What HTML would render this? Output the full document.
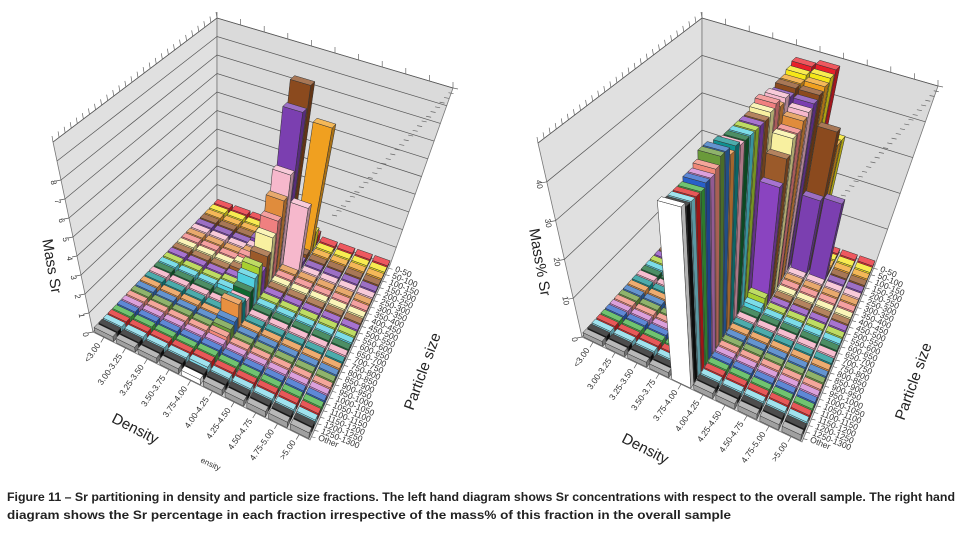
<!DOCTYPE html>
<html><head><meta charset="utf-8"><style>
html,body{margin:0;padding:0;background:#fff;}
svg{display:block;font-family:"Liberation Sans",sans-serif;}
</style></head><body>
<svg id="fig" width="962" height="534" viewBox="0 0 962 534" xmlns="http://www.w3.org/2000/svg">
<rect width="962" height="534" fill="#fff"/>
<g id="left-chart"></g>
<g id="right-chart"></g>
<text x="7" y="501" font-size="11.5" font-weight="bold" fill="#222" textLength="948" lengthAdjust="spacingAndGlyphs">Figure 11 – Sr partitioning in density and particle size fractions. The left hand diagram shows Sr concentrations with respect to the overall sample. The right hand</text>
<text x="7" y="519" font-size="11.5" font-weight="bold" fill="#222" textLength="724" lengthAdjust="spacingAndGlyphs">diagram shows the Sr percentage in each fraction irrespective of the mass% of this fraction in the overall sample</text>
</svg>
<script>
const densityLabels = ["<3.00","3.00-3.25","3.25-3.50","3.50-3.75","3.75-4.00","4.00-4.25","4.25-4.50","4.50-4.75","4.75-5.00",">5.00"];
const sizeLabels = ["0-50","50-100","100-150","150-200","200-250","250-300","300-350","350-400","400-450","450-500","500-550","550-600","600-650","650-700","700-750","750-800","800-850","850-900","900-950","950-1000","1000-1050","1050-1100","1100-1150","1150-1200","1200-1250","1250-1300","Other"];
const sizeColors = ["#e8202a","#f5e617","#f0a020","#8b4a1e","#7b3fb0","#f6b8cc","#e08c3c","#f08080","#f8f0a0","#9b5a2a","#8a44c0","#a8d030","#50d0e0","#106830","#f4a8c0","#109090","#e89040","#3070c0","#6a9a3a","#f08878","#d080d0","#2860c8","#40b040","#e02020","#80d8e8","#111111","#a0a0a0"];
const leftTicks = [0,1,2,3,4,5,6,7,8];
const rightTicks = [0,10,20,30,40];
const LB = 0.25;
const leftMassSr = [
 [LB,LB,LB,LB,LB,LB,LB,LB,LB,LB,LB,LB,LB,LB,LB,LB,LB,LB,LB,LB,LB,LB,LB,LB,LB,LB,LB],
 [LB,LB,LB,LB,LB,LB,LB,LB,LB,LB,LB,LB,LB,LB,LB,LB,LB,LB,LB,LB,LB,LB,LB,LB,LB,LB,LB],
 [LB,LB,LB,LB,LB,LB,LB,LB,LB,LB,LB,LB,LB,LB,LB,LB,LB,LB,LB,LB,LB,LB,LB,LB,LB,LB,LB],
 [LB,LB,0.5,0.6,0.6,0.5,0.5,0.6,0.5,0.5,0.4,0.4,0.4,LB,LB,LB,LB,LB,LB,LB,LB,LB,LB,LB,LB,LB,LB],
 [0.5,0.8,1.5,9.2,8,4.9,3.8,3,2.4,1.7,1.2,1.7,1.4,1.0,0.8,1.0,1.2,0.6,0.5,0.4,0.3,0.3,0.3,0.3,0.3,LB,LB],
 [0.5,1,7,0.4,0.3,3.5,LB,LB,LB,LB,LB,LB,LB,LB,LB,LB,LB,LB,LB,LB,LB,LB,LB,LB,LB,LB,LB],
 [LB,LB,LB,LB,LB,LB,LB,LB,LB,LB,LB,LB,LB,LB,LB,LB,LB,LB,LB,LB,LB,LB,LB,LB,LB,LB,LB],
 [LB,LB,LB,LB,LB,LB,LB,LB,LB,LB,LB,LB,LB,LB,LB,LB,LB,LB,LB,LB,LB,LB,LB,LB,LB,LB,LB],
 [LB,LB,LB,LB,LB,LB,LB,LB,LB,LB,LB,LB,LB,LB,LB,LB,LB,LB,LB,LB,LB,LB,LB,LB,LB,LB,LB],
 [LB,LB,LB,LB,LB,LB,LB,LB,LB,LB,LB,LB,LB,LB,LB,LB,LB,LB,LB,LB,LB,LB,LB,LB,LB,LB,LB]
];
const RB = 1.2;
const rightMassPct = [
 [RB,RB,RB,RB,RB,RB,RB,RB,RB,RB,RB,RB,RB,RB,RB,RB,RB,RB,RB,RB,RB,RB,RB,RB,RB,RB,RB],
 [RB,RB,RB,RB,RB,RB,RB,RB,RB,RB,RB,RB,RB,RB,RB,RB,RB,RB,RB,RB,RB,RB,RB,RB,RB,RB,RB],
 [RB,RB,RB,RB,RB,RB,RB,RB,RB,RB,RB,RB,RB,RB,RB,RB,RB,RB,RB,RB,RB,RB,RB,RB,RB,RB,RB],
 [RB,RB,RB,RB,RB,RB,RB,RB,RB,RB,RB,RB,RB,RB,RB,RB,RB,RB,RB,RB,RB,RB,RB,RB,RB,RB,RB],
 [47,46,45,45,44,45,44,46,45,44,44,44,44,44,44,45,44,46,46,44,43,43,42,42,42,42,43],
 [48,47,46,45,44,43,42,40,40,36,30,3,2,RB,RB,RB,RB,RB,RB,RB,RB,RB,RB,RB,RB,RB,RB],
 [RB,32,32,37,20,RB,RB,RB,RB,RB,RB,RB,RB,RB,RB,RB,RB,RB,RB,RB,RB,RB,RB,RB,RB,RB,RB],
 [RB,RB,RB,RB,21,RB,RB,RB,RB,RB,RB,RB,RB,RB,RB,RB,RB,RB,RB,RB,RB,RB,RB,RB,RB,RB,RB],
 [RB,RB,RB,RB,RB,RB,RB,RB,RB,RB,RB,RB,RB,RB,RB,RB,RB,RB,RB,RB,RB,RB,RB,RB,RB,RB,RB],
 [RB,RB,RB,RB,RB,RB,RB,RB,RB,RB,RB,RB,RB,RB,RB,RB,RB,RB,RB,RB,RB,RB,RB,RB,RB,RB,RB]
];

const NS = "http://www.w3.org/2000/svg";
function el(tag, attrs, parent){const e=document.createElementNS(NS,tag);for(const k in attrs)e.setAttribute(k,attrs[k]);parent.appendChild(e);return e;}
function shade(hex,f){const n=parseInt(hex.slice(1),16);let r=(n>>16)&255,g=(n>>8)&255,b=n&255;
 if(f<1){r*=f;g*=f;b*=f;}else{r=r+(255-r)*(f-1);g=g+(255-g)*(f-1);b=b+(255-b)*(f-1);}
 return "rgb("+Math.round(r)+","+Math.round(g)+","+Math.round(b)+")";}
function lerp(a,b,t){return [a[0]+(b[0]-a[0])*t,a[1]+(b[1]-a[1])*t];}
function pts(a){return a.map(p=>p[0].toFixed(1)+","+p[1].toFixed(1)).join(" ");}

function drawChart(g, cfg, values, ticks){
 const nd=densityLabels.length, nc=sizeLabels.length;
 function P(u,v,h){const f=lerp(lerp(cfg.L,cfg.B,v),lerp(cfg.O,cfg.R,v),u);
  const up=lerp(lerp(cfg.uL,cfg.uB,v),lerp(cfg.uO,cfg.uR,v),u);const k=h/cfg.max;return [f[0]+up[0]*k,f[1]+up[1]*k];}
 const lw=el("polygon",{points:pts([P(0,0,0),P(0,1,0),P(0,1,cfg.max),P(0,0,cfg.max)]),fill:"#e0e0e0",stroke:"#777","stroke-width":"0.8"},g);
 
 
 const bw=el("polygon",{points:pts([P(0,1,0),P(1,1,0),P(1,1,cfg.max),P(0,1,cfg.max)]),fill:"#dadada",stroke:"#777","stroke-width":"0.8"},g);
 
 
 const fl=el("polygon",{points:pts([P(0,0,0),P(1,0,0),P(1,1,0),P(0,1,0)]),fill:"#d2d2d2",stroke:"#777","stroke-width":"0.8"},g);
 
 
 for(let h=cfg.grid; h<=cfg.max+0.001; h+=cfg.grid){
  const gl=el("polyline",{points:pts([P(0,0,h),P(0,1,h),P(1,1,h)]),fill:"none",stroke:"#555","stroke-width":"0.7"},g);
  
  
 }
 for(let j=0;j<=nc;j++){const a=P(0,j/nc,cfg.max);const t=el("line",{x1:a[0],y1:a[1],x2:a[0]-1,y2:a[1]-6,stroke:"#666","stroke-width":"0.7"},g);
  
  }
 for(let i=0;i<=nd;i++){const a=P(i/nd,1,cfg.max);const t=el("line",{x1:a[0],y1:a[1],x2:a[0],y2:a[1]-6,stroke:"#666","stroke-width":"0.7"},g);
  
  }
 for(let j=0;j<=nc;j++){const a=P(1,j/nc,cfg.max);const t=el("line",{x1:a[0],y1:a[1],x2:a[0]+5,y2:a[1]+1,stroke:"#666","stroke-width":"0.7"},g);
  
  }
 ticks.forEach(t=>{const a=P(0,0,t);
  const tl=el("line",{x1:a[0],y1:a[1],x2:a[0]-5,y2:a[1]+1,stroke:"#555","stroke-width":"0.7"},g);
  
  
  const tx=el("text",{x:a[0]-10,y:a[1]+3,"font-size":"8","text-anchor":"middle",fill:"#333",transform:"rotate(80 "+(a[0]-10)+" "+(a[1]+3)+")"},g);
  tx.textContent=t;
  
  });
 for(let c=0;c<nc;c++){
  for(let d=0;d<nd;d++){
   const h=values[d][c];
   const u0=(d+0.07)/nd,u1=(d+0.93)/nd,vi=nc-1-c,v0=(vi+0.1)/nc,v1=(vi+0.9)/nc;
   let col=sizeColors[c]; if(c===nc-1&&d===4) col="#ffffff";
   const bar=el("g",{},g);
   
   
   el("polygon",{points:pts([P(u1,v0,0),P(u1,v1,0),P(u1,v1,h),P(u1,v0,h)]),fill:shade(col,0.7),stroke:"#333","stroke-width":"0.5"},bar);
   el("polygon",{points:pts([P(u0,v0,0),P(u1,v0,0),P(u1,v0,h),P(u0,v0,h)]),fill:col,stroke:"#333","stroke-width":"0.5"},bar);
   el("polygon",{points:pts([P(u0,v0,h),P(u1,v0,h),P(u1,v1,h),P(u0,v1,h)]),fill:shade(col,1.25),stroke:"#333","stroke-width":"0.5"},bar);
  }
 }
 densityLabels.forEach((lab,i)=>{const a=P((i+0.5)/nd,0,0);const x=a[0]-3,y=a[1]+8;
  const tk=el("line",{x1:a[0],y1:a[1],x2:a[0]-3,y2:a[1]+5,stroke:"#555","stroke-width":"0.7"},g);
  
  
  const t=el("text",{x:x,y:y,"font-size":"8.5","text-anchor":"end",fill:"#333",transform:"rotate(-55 "+x+" "+y+")"},g);
  t.textContent=lab;
  
  });
 sizeLabels.forEach((lab,j)=>{const a=P(1,(nc-1-j+0.5)/nc,0);const x=a[0]+6,y=a[1]+3;
  const tk=el("line",{x1:a[0],y1:a[1],x2:a[0]+4,y2:a[1]+1,stroke:"#555","stroke-width":"0.6"},g);
  
  
  const t=el("text",{x:x,y:y,"font-size":"8.5","text-anchor":"start",fill:"#333",transform:"rotate(22 "+x+" "+y+")"},g);
  t.textContent=lab;
  
  });
 function title(txt,x,y,rot,name,size){const t=el("text",{x:x,y:y,"font-size":size||"15","text-anchor":"middle",fill:"#222",transform:"rotate("+rot+" "+x+" "+y+")"},g);
  t.textContent=txt;
  
  }
 title(cfg.yTitle,cfg.yt[0],cfg.yt[1],80,'y-axis-title');
 title("Density",cfg.dt[0],cfg.dt[1],27,'density-axis-title');
 title("Particle size",cfg.pt[0],cfg.pt[1],-70,'particle-size-axis-title');
}

drawChart(document.getElementById("left-chart"),{
 L:[93,332],O:[310,440],B:[217,203],R:[390,265],
 uL:[-40,-190],uB:[0,-185],uR:[63,-177],uO:[22,-225],
 max:10,grid:1,yTitle:"Mass Sr",yt:[47,267],dt:[133,433],pt:[427,373]
},leftMassSr,leftTicks);

drawChart(document.getElementById("right-chart"),{
 L:[582,337],O:[802,442],B:[702,205],R:[875,265],
 uL:[-44,-194],uB:[0,-187],uR:[63,-179],uO:[22,-228],
 max:50,grid:10,yTitle:"Mass% Sr",yt:[535,263],dt:[643,453],pt:[918,383]
},rightMassPct,rightTicks);

const lc=document.getElementById("left-chart");
const frag=el("text",{x:200,y:462,"font-size":"8",fill:"#333",transform:"rotate(25 200 462)"},lc);
frag.textContent="ensity";


</script>
</body></html>
